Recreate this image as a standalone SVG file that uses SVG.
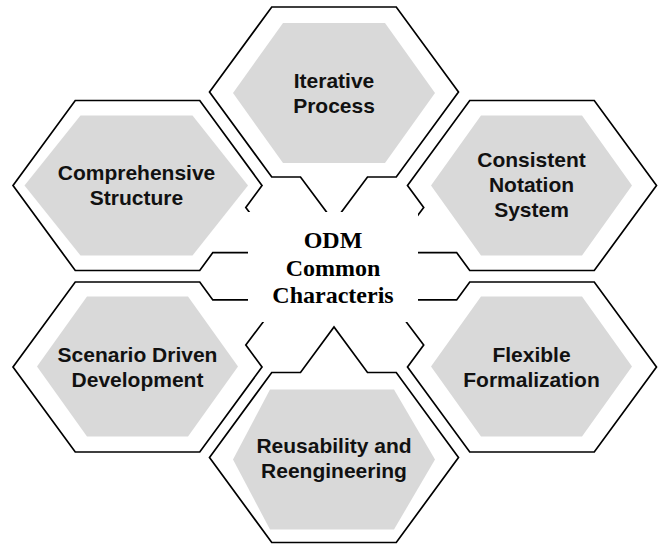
<svg xmlns="http://www.w3.org/2000/svg" width="658" height="544" viewBox="0 0 658 544">
  <style>
    .frame { fill: #ffffff; stroke: #000000; stroke-width: 1.7; stroke-linejoin: miter; }
    .core { fill: #d9d9d9; stroke: none; }
    .label { font-family: "Liberation Sans", Arial, sans-serif; font-weight: bold; font-size: 21px; fill: #111111; text-anchor: middle; }
    .hub { font-family: "Liberation Serif", "Times New Roman", serif; font-weight: bold; font-size: 24px; fill: #000000; text-anchor: middle; }
  </style>
  <rect width="658" height="544" fill="#ffffff"/>

  <!-- top cell -->
  <g id="iterative-process">
    <path class="frame" d="M209.5,92 L271.75,7 L396.25,7 L458.5,92 L396.25,177 L367.5,177 L334,222 L300.5,177 L271.75,177 Z"/>
    <path class="core" d="M233,93 L283,23 L385,23 L435,93 L385,163 L283,163 Z"/>
    <text class="label" x="334" y="88">Iterative</text>
    <text class="label" x="334" y="113">Process</text>
  </g>

  <!-- upper left cell -->
  <g id="comprehensive-structure">
    <path class="frame" d="M13,185.5 L75.25,100.5 L199.75,100.5 L262,185.5 L245.8,207.6 L279.8,252.6 L212.8,252.6 L199.75,270.5 L75.25,270.5 Z"/>
    <path class="core" d="M24.5,185.5 L80.5,115.5 L192.5,115.5 L248,185.5 L192.5,255.5 L80.5,255.5 Z"/>
    <text class="label" x="136.5" y="179.5">Comprehensive</text>
    <text class="label" x="136.5" y="205">Structure</text>
  </g>

  <!-- upper right cell -->
  <g id="consistent-notation-system">
    <path class="frame" d="M469.75,100.5 L594.25,100.5 L656.5,185.5 L594.25,270.5 L469.75,270.5 L456.65,252.6 L389.65,252.6 L423.7,207.6 L407.5,185.5 Z"/>
    <path class="core" d="M431,185.5 L481,115.5 L582,115.5 L632,185.5 L582,255.5 L481,255.5 Z"/>
    <text class="label" x="531.5" y="167">Consistent</text>
    <text class="label" x="531.5" y="192">Notation</text>
    <text class="label" x="531.5" y="217">System</text>
  </g>

  <!-- lower left cell -->
  <g id="scenario-driven-development">
    <path class="frame" d="M13,367 L75.25,282 L199.75,282 L212.8,299.9 L279.8,299.9 L245.8,344.9 L262,367 L199.75,452 L75.25,452 Z"/>
    <path class="core" d="M37,366.5 L87,296.5 L188,296.5 L238,366.5 L188,436.5 L87,436.5 Z"/>
    <text class="label" x="137.5" y="362">Scenario Driven</text>
    <text class="label" x="137.5" y="387">Development</text>
  </g>

  <!-- lower right cell -->
  <g id="flexible-formalization">
    <path class="frame" d="M469.75,282 L594.25,282 L656.5,367 L594.25,452 L469.75,452 L407.5,367 L423.7,344.9 L389.65,299.9 L456.65,299.9 Z"/>
    <path class="core" d="M431,366.5 L481,296.5 L582,296.5 L632,366.5 L582,436.5 L481,436.5 Z"/>
    <text class="label" x="531.5" y="362">Flexible</text>
    <text class="label" x="531.5" y="387">Formalization</text>
  </g>

  <!-- bottom cell -->
  <g id="reusability-and-reengineering">
    <path class="frame" d="M209.5,457.5 L271.75,372.5 L300.5,372.5 L334,327 L367.5,372.5 L396.25,372.5 L458.5,457.5 L396.25,542.5 L271.75,542.5 Z"/>
    <path class="core" d="M233,459.5 L270,389.5 L394,389.5 L435,459.5 L394,529.5 L270,529.5 Z"/>
    <text class="label" x="334" y="453">Reusability and</text>
    <text class="label" x="334" y="478">Reengineering</text>
  </g>

  <!-- hub: white title box laid over the inner tips of the cells -->
  <g id="odm-common-characteristics">
    <rect x="248" y="212" width="170" height="110" fill="#ffffff"/>
    <text class="hub" x="333" y="248">ODM</text>
    <text class="hub" x="333" y="276">Common</text>
    <text class="hub" x="333" y="303">Characteris</text>
  </g>
</svg>
